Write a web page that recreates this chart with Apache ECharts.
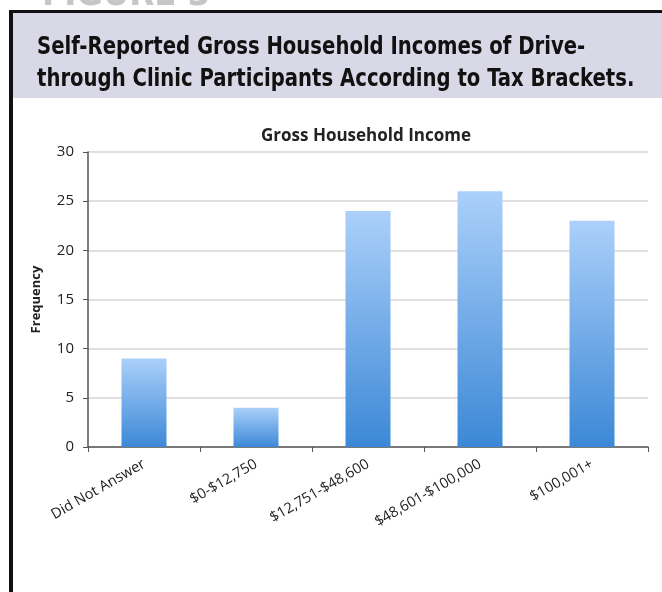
<!DOCTYPE html>
<html>
<head>
<meta charset="utf-8">
<script src="https://cdn.jsdelivr.net/npm/echarts@6/dist/echarts.min.js"></script>
<style>
html,body{margin:0;padding:0;background:#fff;}
#chart{width:662px;height:592px;}
</style>
</head>
<body>
<div id="chart"></div>
<script>
const categories = ['Did Not Answer', '$0-$12,750', '$12,751-$48,600', '$48,601-$100,000', '$100,001+'];
const frequency = [9, 4, 24, 26, 23];
const yTicks = [0, 5, 10, 15, 20, 25, 30];

const chart = echarts.init(document.getElementById('chart'), null, {renderer: 'canvas'});
const condensed = '"Liberation Sans Narrow", "DejaVu Sans Condensed", "Arial Narrow", sans-serif';
const body = '"Open Sans", "Liberation Sans", sans-serif';

chart.setOption({
  backgroundColor: '#ffffff',
  animation: false,
  graphic: [
    {type: 'text', x: 42, y: -24, z: 1, scaleX: 0.95,
      style: {text: 'FIGURE 3', font: 'bold 38px ' + condensed, fill: '#c6c6c6'}},
    {type: 'rect', shape: {x: 12, y: 13, width: 650, height: 85}, style: {fill: '#d9d8e6'}, z: 0},
    {type: 'rect', shape: {x: 9, y: 10, width: 653, height: 3}, style: {fill: '#111'}, z: 2},
    {type: 'rect', shape: {x: 9, y: 10, width: 4, height: 582}, style: {fill: '#111'}, z: 2},
    {type: 'text', x: 37, y: 32, z: 3, scaleX: 0.91,
      style: {text: 'Self-Reported Gross Household Incomes of Drive-\nthrough Clinic Participants According to Tax Brackets.',
        font: 'bold 24px ' + condensed, fill: '#111', lineHeight: 32}}
  ],
  title: {
    text: 'Gross Household Income',
    left: 361, top: 123, textAlign: 'center',
    textStyle: {fontFamily: body, fontSize: 17, fontWeight: 'bold', color: '#222'}
  },
  grid: {left: 88, right: 14, top: 152, bottom: 145},
  xAxis: {
    type: 'category',
    data: categories,
    axisLine: {lineStyle: {color: '#555', width: 1.5}},
    axisTick: {show: true, length: 5, lineStyle: {color: '#555'}},
    axisLabel: {rotate: 30, interval: 0, margin: 16, color: '#222',
      fontFamily: body, fontSize: 14.5}
  },
  yAxis: {
    type: 'value',
    min: yTicks[0], max: yTicks[yTicks.length - 1], interval: 5,
    name: 'Frequency', nameLocation: 'middle', nameGap: 45, nameRotate: 90,
    nameTextStyle: {fontFamily: body, fontSize: 13, fontWeight: 'bold', color: '#222'},
    axisLine: {show: true, lineStyle: {color: '#555', width: 1.5}},
    axisTick: {show: true, length: 5, lineStyle: {color: '#555'}},
    axisLabel: {color: '#222', fontFamily: body, fontSize: 15, margin: 14},
    splitLine: {lineStyle: {color: '#d6d6d6', width: 1.5}}
  },
  series: [{
    type: 'bar',
    data: frequency,
    barWidth: 45,
    itemStyle: {
      color: new echarts.graphic.LinearGradient(0, 0, 0, 1, [
        {offset: 0, color: '#abd0fa'},
        {offset: 1, color: '#3c88d6'}
      ])
    }
  }]
});
</script>
</body>
</html>
